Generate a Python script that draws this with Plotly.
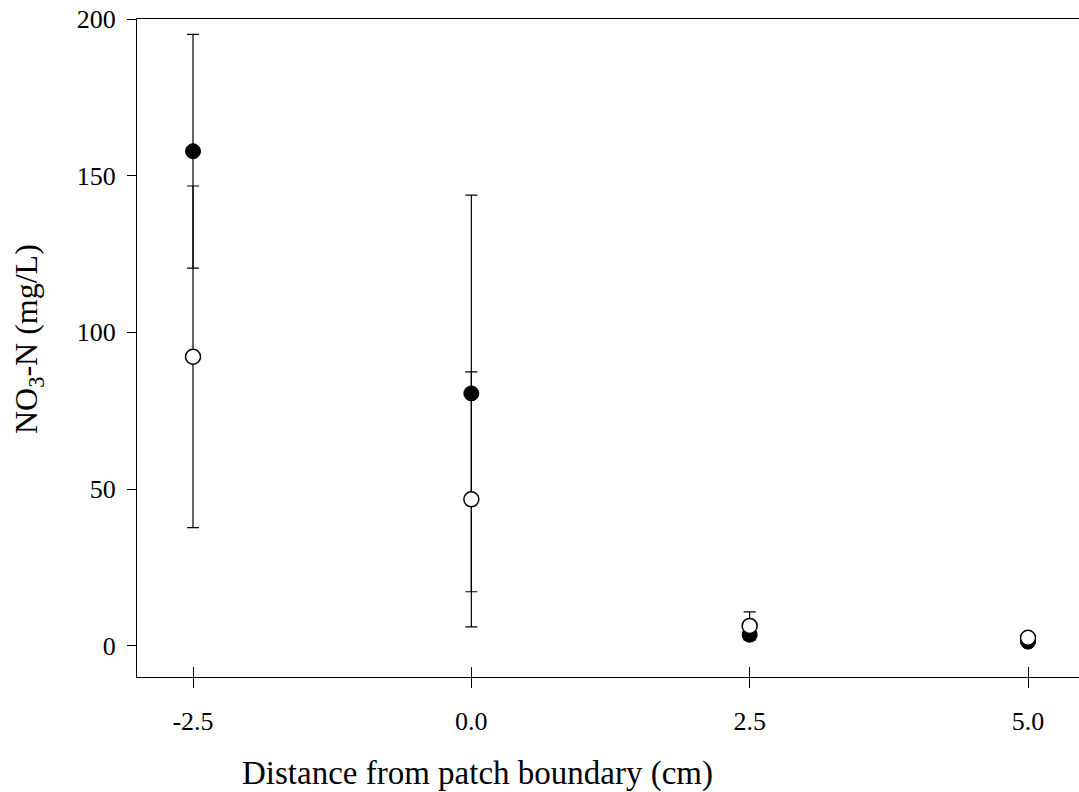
import plotly.graph_objects as go

# Data
distance = [-2.5, 0.0, 2.5, 5.0]
filled_mean = [157.8, 80.5, 3.5, 1.3]
filled_err = [37.3, 63.3, 1.5, 0.6]
open_mean = [92.2, 46.7, 6.3, 2.5]
open_err = [54.5, 40.7, 4.5, 0.6]

x_ticks = [-2.5, 0.0, 2.5, 5.0]
x_tick_text = ["-2.5", "0.0", "2.5", "5.0"]
y_ticks = [0, 50, 100, 150, 200]

FONT = "Liberation Serif"

fig = go.Figure()

fig.add_trace(go.Scatter(
    x=distance, y=filled_mean, mode="markers",
    marker=dict(size=15, color="black", line=dict(color="black", width=1)),
    error_y=dict(type="data", array=filled_err, visible=True,
                 color="black", thickness=1.2, width=6),
    showlegend=False,
))
fig.add_trace(go.Scatter(
    x=distance, y=open_mean, mode="markers",
    marker=dict(size=15, color="white", line=dict(color="black", width=1.5)),
    error_y=dict(type="data", array=open_err, visible=True,
                 color="black", thickness=1.2, width=6),
    showlegend=False,
))
# invisible trace to activate the overlay axis (inward ticks)
fig.add_trace(go.Scatter(x=[distance[0]], y=[open_mean[0]], xaxis="x2",
                         mode="markers", marker=dict(opacity=0),
                         showlegend=False, hoverinfo="skip"))

xrange = [-3.003, 5.458]
fig.update_layout(
    width=1079, height=792,
    margin=dict(l=137, r=0, t=19, b=115),
    paper_bgcolor="white", plot_bgcolor="white",
    font=dict(family=FONT, size=26, color="black"),
    xaxis=dict(range=xrange, tickvals=x_ticks, ticktext=x_tick_text,
               showgrid=False, zeroline=False, showline=True,
               linecolor="black", linewidth=1, mirror=True,
               ticks="outside", ticklen=10, tickwidth=1, tickcolor="black",
               tickfont=dict(family=FONT, size=26),
               ticklabelstandoff=11),
    xaxis2=dict(range=xrange, tickvals=x_ticks, overlaying="x",
                anchor="y", side="bottom", showticklabels=False,
                showgrid=False, zeroline=False, showline=False,
                ticks="inside", ticklen=10, tickwidth=1, tickcolor="black"),
    yaxis=dict(range=[-10, 200], tickvals=y_ticks,
               showgrid=False, zeroline=False, showline=True,
               linecolor="black", linewidth=1, mirror=False,
               ticks="outside", ticklen=9, tickwidth=1, tickcolor="black",
               tickfont=dict(family=FONT, size=26),
               ticklabelstandoff=6),
    annotations=[
        dict(text="Distance from patch boundary (cm)", xref="paper", yref="paper",
             x=(477 - 137) / 942, y=(677 - 773) / 658, xanchor="center",
             yanchor="middle", showarrow=False,
             font=dict(family=FONT, size=33)),
        dict(text="NO<sub>3</sub>-N (mg/L)", xref="paper", yref="paper",
             x=(29 - 137) / 942, y=(677 - 339) / 658, xanchor="center",
             yanchor="middle", textangle=-90, showarrow=False,
             font=dict(family=FONT, size=32)),
    ],
)

fig.write_html("out.html")
